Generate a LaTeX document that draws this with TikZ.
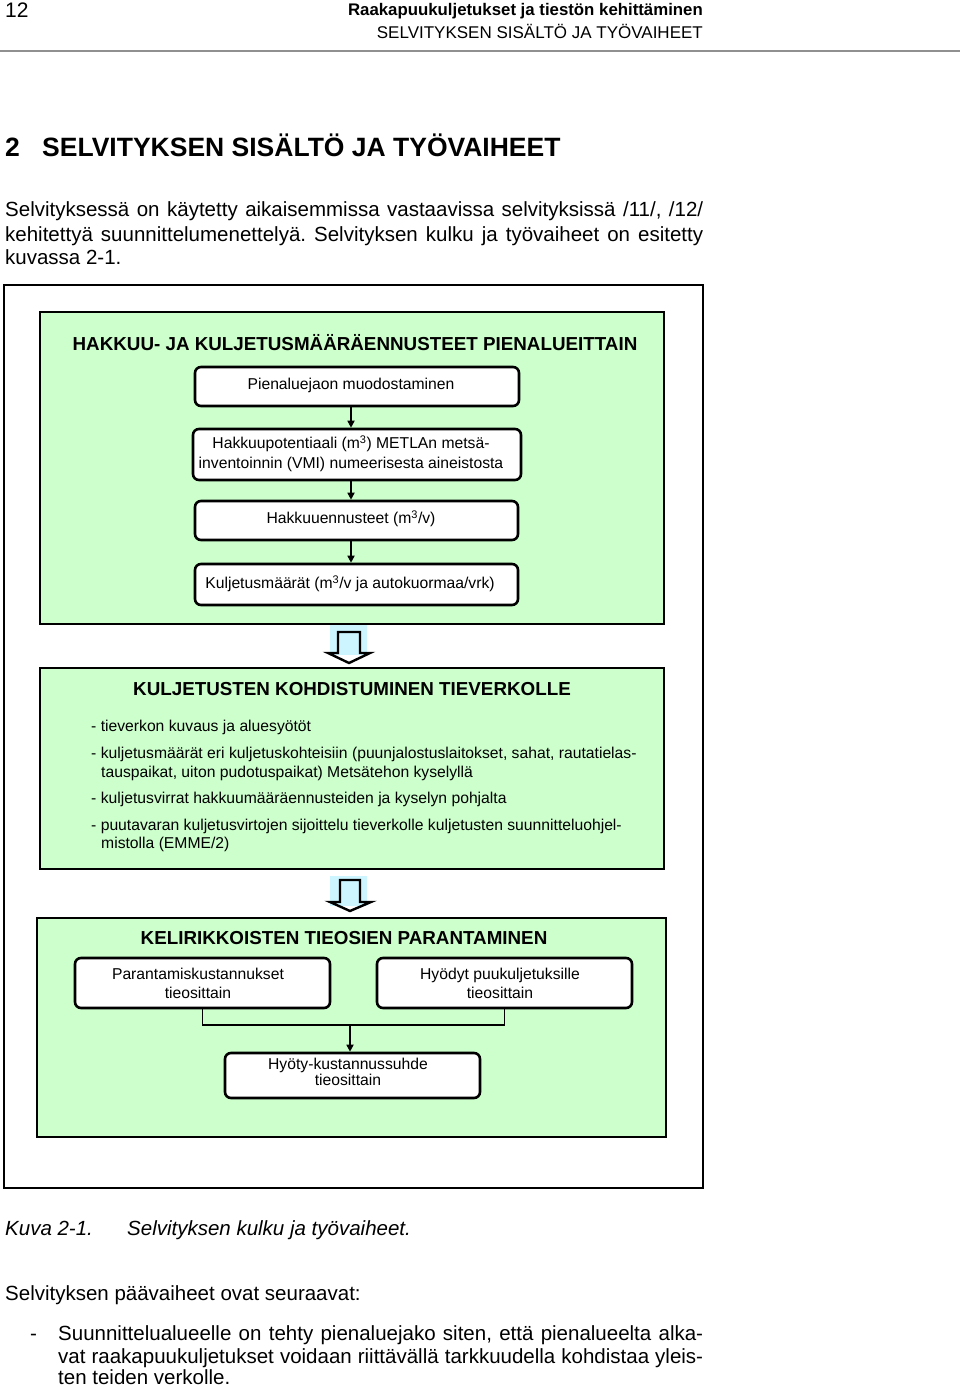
\documentclass[tikz,border=0pt]{standalone}
\usepackage{fontspec}
\setmainfont{Liberation Sans}
\usetikzlibrary{arrows.meta}
\frenchspacing
\definecolor{boxgreen}{HTML}{CCFFCC}
\definecolor{arrcyan}{HTML}{CCF5FF}
\definecolor{rulegray}{HTML}{909090}
\tikzset{
  greenbox/.style={draw, line width=2.6pt, fill=boxgreen, inner sep=0pt},
  whitebox/.style={draw, line width=2.6pt, fill=white, rounded corners=6pt, inner sep=0pt},
  boxtext/.style={inner sep=0pt, align=center, font=\fontsize{15.7}{20}\selectfont},
  boxtitle/.style={font=\bfseries\fontsize{18.8}{22}\selectfont, inner sep=0pt},
  bodytext/.style={anchor=base west, inner sep=0pt, font=\fontsize{20.5}{24}\selectfont},
  bullettext/.style={anchor=base west, inner sep=0pt, font=\fontsize{15.7}{19}\selectfont},
  flowarrow/.style={line width=1.6pt, -{Triangle[length=7pt,width=7pt]}},
  joinline/.style={line width=1.6pt},
  hollowarrow/.style={draw, line width=2.4pt, line join=miter},
}
\begin{document}
\begin{tikzpicture}[x=1pt,y=-1pt]
\useasboundingbox (0,0) rectangle (960,1388);
% page header
\node[bodytext, font=\fontsize{21}{24}\selectfont] (pagenum) at (5,18) {12};
\node[anchor=base east, inner sep=0pt, font=\bfseries\fontsize{16.8}{20}\selectfont] (hdr1) at (703,16) {Raakapuukuljetukset ja tiestön kehittäminen};
\node[anchor=base east, inner sep=0pt, font=\fontsize{17}{20}\selectfont] (hdr2) at (703,39) {SELVITYKSEN SISÄLTÖ JA TYÖVAIHEET};
\draw[rulegray, line width=1.2pt] (0,51) -- (960,51);
% heading
\node[anchor=base west, inner sep=0pt, font=\bfseries\fontsize{26.5}{30}\selectfont] (hnum) at (5,157) {2};
\node[anchor=base west, inner sep=0pt, font=\bfseries\fontsize{26.5}{30}\selectfont] (htext) at (42,157) {SELVITYKSEN SISÄLTÖ JA TYÖVAIHEET};
% paragraph
\node[bodytext] (p1) at (5,217) {\makebox[698pt][s]{Selvityksessä on käytetty aikaisemmissa vastaavissa selvityksissä /11/, /12/}};
\node[bodytext] (p2) at (5,241) {\makebox[698pt][s]{kehitettyä suunnittelumenettelyä. Selvityksen kulku ja työvaiheet on esitetty}};
\node[bodytext] (p3) at (5,265) {kuvassa 2-1.};
% figure frame
\node[draw, line width=1.2pt, minimum width=699pt, minimum height=903pt, inner sep=0pt] (frame) at (353.5,736.5) {};
% box A
\node[greenbox, minimum width=624pt, minimum height=312pt] (boxA) at (352,468) {};
\node[boxtitle] (titleA) at (355,343) {HAKKUU- JA KULJETUSMÄÄRÄENNUSTEET PIENALUEITTAIN};
\node[whitebox, minimum width=324pt, minimum height=39pt] (b1) at (357,386.5) {};
\node[boxtext] (b1t) at (351,385) {Pienaluejaon muodostaminen};
\node[whitebox, minimum width=328pt, minimum height=51pt] (b2) at (357,454.5) {};
\node[boxtext] (b2t) at (351,454) {Hakkuupotentiaali (m\textsuperscript{3}) METLAn metsä-\\inventoinnin (VMI) numeerisesta aineistosta};
\node[whitebox, minimum width=323pt, minimum height=39pt] (b3) at (356.5,520.5) {};
\node[boxtext] (b3t) at (351,519) {Hakkuuennusteet (m\textsuperscript{3}/v)};
\node[whitebox, minimum width=323pt, minimum height=41pt] (b4) at (356.5,584.5) {};
\node[boxtext] (b4t) at (350,584) {Kuljetusmäärät (m\textsuperscript{3}/v ja autokuormaa/vrk)};
\draw[flowarrow] (b1.south -| b1t) -- (b2.north -| b1t);
\draw[flowarrow] (b2.south -| b1t) -- (b3.north -| b1t);
\draw[flowarrow] (b3.south -| b1t) -- (b4.north -| b1t);
% hollow arrow 1
\fill[white] (338,632) -- (360,632) -- (360,653) -- (370,653) -- (349,663) -- (328,653) -- (338,653) -- cycle;
\fill[arrcyan] (330,625) rectangle (367,655);
\draw[hollowarrow] (338,632) -- (360,632) -- (360,653) -- (370,653) -- (349,663) -- (328,653) -- (338,653) -- cycle;
% box B
\node[greenbox, minimum width=624pt, minimum height=201pt] (boxB) at (352,768.5) {};
\node[boxtitle] (titleB) at (352,689) {KULJETUSTEN KOHDISTUMINEN TIEVERKOLLE};
\node[bullettext] (l1) at (91,731) {- tieverkon kuvaus ja aluesyötöt};
\node[bullettext] (l2) at (91,758) {- kuljetusmäärät eri kuljetuskohteisiin (puunjalostuslaitokset, sahat, rautatielas-};
\node[bullettext] (l3) at (101,777) {tauspaikat, uiton pudotuspaikat) Metsätehon kyselyllä};
\node[bullettext] (l4) at (91,803) {- kuljetusvirrat hakkuumääräennusteiden ja kyselyn pohjalta};
\node[bullettext] (l5) at (91,830) {- puutavaran kuljetusvirtojen sijoittelu tieverkolle kuljetusten suunnitteluohjel-};
\node[bullettext] (l6) at (101,848) {mistolla (EMME/2)};
% hollow arrow 2
\fill[white] (340,880) -- (360,880) -- (360,902) -- (371,902) -- (350,911) -- (330,902) -- (340,902) -- cycle;
\fill[arrcyan] (330,876) rectangle (367,906);
\draw[hollowarrow] (340,880) -- (360,880) -- (360,902) -- (371,902) -- (350,911) -- (330,902) -- (340,902) -- cycle;
% box C
\node[greenbox, minimum width=629pt, minimum height=219pt] (boxC) at (351.5,1027.5) {};
\node[boxtitle] (titleC) at (344,938) {KELIRIKKOISTEN TIEOSIEN PARANTAMINEN};
\node[whitebox, minimum width=255pt, minimum height=50pt] (c1) at (202.5,983) {};
\node[boxtext, font=\fontsize{15.7}{19}\selectfont] (c1t) at (198,983) {Parantamiskustannukset\\tieosittain};
\node[whitebox, minimum width=255pt, minimum height=50pt] (c2) at (504.5,983) {};
\node[boxtext, font=\fontsize{15.7}{19}\selectfont] (c2t) at (500,983) {Hyödyt puukuljetuksille\\tieosittain};
\node[whitebox, minimum width=255pt, minimum height=45pt] (c3) at (352.5,1075.5) {};
\node[boxtext, font=\fontsize{15.7}{15.5}\selectfont] (c3t) at (348,1072) {Hyöty-kustannussuhde\\tieosittain};
\coordinate (join) at (350,1025);
\draw[joinline] (c1.south) |- (c2.south |- join) -- (c2.south);
\draw[flowarrow] (join) -- (c3.north -| join);
% caption
\node[bodytext, font=\itshape\fontsize{20.5}{24}\selectfont] (cap1) at (5,1235) {Kuva 2-1.};
\node[bodytext, font=\itshape\fontsize{20.5}{24}\selectfont] (cap2) at (127,1235) {Selvityksen kulku ja työvaiheet.};
% following text
\node[bodytext] (q1) at (5,1300) {Selvityksen päävaiheet ovat seuraavat:};
\node[bodytext] (dash) at (30,1340) {-};
\node[bodytext] (q2) at (58,1340) {\makebox[645pt][s]{Suunnittelualueelle on tehty pienaluejako siten, että pienalueelta alka-}};
\node[bodytext] (q3) at (58,1363) {\makebox[645pt][s]{vat raakapuukuljetukset voidaan riittävällä tarkkuudella kohdistaa yleis-}};
\node[bodytext] (q4) at (58,1384) {ten teiden verkolle.};
\end{tikzpicture}
\end{document}
